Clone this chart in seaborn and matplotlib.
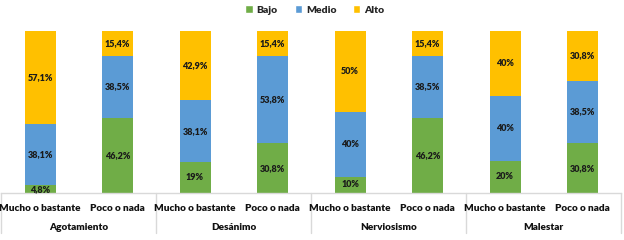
import numpy as np
import pandas as pd
import seaborn as sns
import matplotlib.pyplot as plt
from matplotlib.patches import Patch
from matplotlib.transforms import blended_transform_factory

groups = ["Agotamiento", "Desánimo", "Nerviosismo", "Malestar"]
answers = ["Mucho o bastante", "Poco o nada"]
levels = ["Bajo", "Medio", "Alto"]
colors = {"Bajo": "#70AD47", "Medio": "#5B9BD5", "Alto": "#FFC000"}

# porcentajes por barra (Agot-Mucho, Agot-Poco, Des-Mucho, Des-Poco, ...)
bajo = [4.8, 46.2, 19, 30.8, 10, 46.2, 20, 30.8]
medio = [38.1, 38.5, 38.1, 53.8, 40, 38.5, 40, 38.5]
alto = [57.1, 15.4, 42.9, 15.4, 50, 15.4, 40, 30.8]

keys = [f"{g}|{a}" for g in groups for a in answers]
df = pd.DataFrame({"key": keys, "Bajo": bajo, "Medio": medio, "Alto": alto})
df["top_medio"] = df["Bajo"] + df["Medio"]
df["top_alto"] = df["top_medio"] + df["Alto"]

sns.set_style("white")
plt.rcParams["font.family"] = ["Lato", "DejaVu Sans"]

fig = plt.figure(figsize=(6.24, 2.4), dpi=100)
ax = fig.add_axes([1.25 / 624, 47 / 240, 620 / 624, 162 / 240])

# barras apiladas: se dibujan los acumulados de mayor a menor
for col, lev in [("top_alto", "Alto"), ("top_medio", "Medio"), ("Bajo", "Bajo")]:
    sns.barplot(data=df, x="key", y=col, order=keys, color=colors[lev],
                width=0.4, saturation=1, edgecolor="none", ax=ax)

def fmt(v):
    s = f"{v:g}".replace(".", ",")
    return s + "%"

for i, row in df.iterrows():
    base = 0
    for lev in levels:
        v = row[lev]
        ax.text(i, base + v / 2, fmt(v), ha="center", va="center",
                fontsize=6.5, fontweight="heavy", color="#1a1a1a")
        base += v

ax.set_xlim(-0.5, 7.5)
ax.set_ylim(0, 100)
ax.set_xlabel("")
ax.set_ylabel("")
ax.set_yticks([])
ax.set_xticks([])
for s in ["top", "left", "right"]:
    ax.spines[s].set_visible(False)
ax.spines["bottom"].set_color("#D9D9D9")
ax.spines["bottom"].set_linewidth(1)

trans = blended_transform_factory(ax.transData, ax.transAxes)
for i, k in enumerate(keys):
    ax.text(i, -0.095, k.split("|")[1], transform=trans, ha="center", va="center",
            fontsize=7.2, fontweight="heavy", color="#111111")
for j, g in enumerate(groups):
    ax.text(2 * j + 0.5, -0.21, g, transform=trans, ha="center", va="center",
            fontsize=7.2, fontweight="heavy", color="#111111")
for b in [-0.5, 1.5, 3.5, 5.5, 7.5]:
    ax.plot([b, b], [0, -0.247], transform=trans, color="#D9D9D9", lw=1, clip_on=False)

handles = [Patch(facecolor=colors[l], label=l) for l in levels]
fig.legend(handles=handles, loc="center", bbox_to_anchor=(315 / 624, 1 - 10 / 240),
           ncol=3, frameon=False, handlelength=0.7, handleheight=0.7,
           handletextpad=0.4, columnspacing=1.6, prop={"weight": "heavy", "size": 7.5})

fig.savefig("out.png", dpi=100)
